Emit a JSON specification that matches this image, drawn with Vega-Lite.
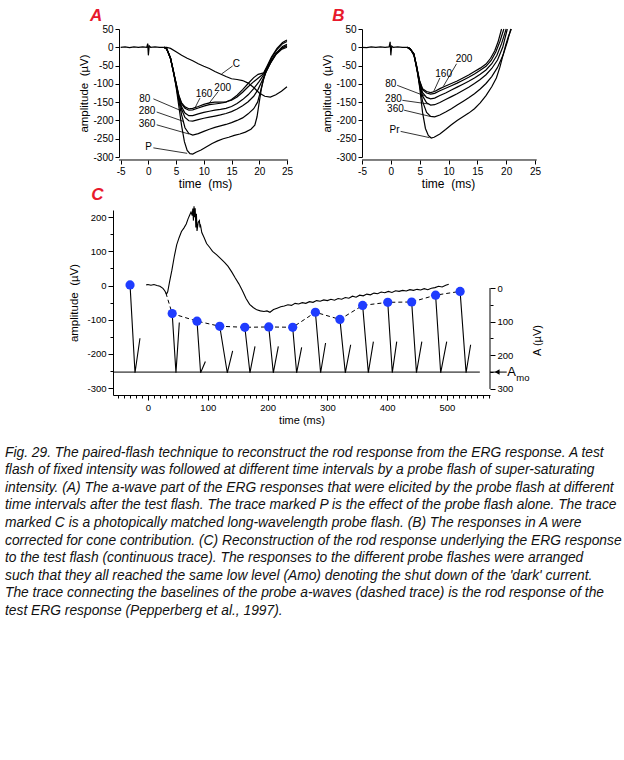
{
"$schema":"https://vega.github.io/schema/vega-lite/v6.json",
"background":"white",
"padding":{"left":5,"top":7,"right":0,"bottom":0},
"config":{
 "view":{"stroke":null},
 "font":"Liberation Sans",
 "axis":{"grid":false,"domainColor":"#000","tickColor":"#000","labelColor":"#000","titleColor":"#000","labelFont":"Liberation Sans","titleFont":"Liberation Sans","titleFontWeight":"normal","labelFlush":false,"labelOverlap":false,"domainWidth":1,"tickWidth":1}
},
"datasets":{
 "aC":[
  {"c":"base","t":-5,"v":0},{"c":"base","t":-4.2,"v":1},{"c":"base","t":-3.4,"v":-1},{"c":"base","t":-2.6,"v":1},{"c":"base","t":-1.8,"v":0},{"c":"base","t":-1,"v":1},{"c":"base","t":-0.3,"v":0},{"c":"base","t":-0.12,"v":10},{"c":"base","t":0,"v":-22},{"c":"base","t":0.15,"v":4},{"c":"base","t":0.4,"v":0},{"c":"base","t":1.2,"v":1},{"c":"base","t":2,"v":0},{"c":"base","t":2.8,"v":0},
  {"c":"P","t":2.8,"v":0},{"c":"P","t":3.2,"v":-4},{"c":"P","t":3.6,"v":-14},{"c":"P","t":4.0,"v":-32},{"c":"P","t":4.5,"v":-62},{"c":"P","t":5.0,"v":-108},{"c":"P","t":5.5,"v":-162},{"c":"P","t":6.0,"v":-215},{"c":"P","t":6.5,"v":-258},{"c":"P","t":7.0,"v":-282},{"c":"P","t":7.5,"v":-291},{"c":"P","t":8.0,"v":-292},{"c":"P","t":8.6,"v":-287},{"c":"P","t":9.5,"v":-281},{"c":"P","t":10.5,"v":-272},{"c":"P","t":11.5,"v":-263},{"c":"P","t":12.5,"v":-256},{"c":"P","t":13.5,"v":-250},{"c":"P","t":14.5,"v":-246},{"c":"P","t":15.5,"v":-241},{"c":"P","t":16.5,"v":-237},{"c":"P","t":17.5,"v":-232},{"c":"P","t":18.5,"v":-224},{"c":"P","t":19.2,"v":-213},{"c":"P","t":19.6,"v":-190},{"c":"P","t":20.0,"v":-150},{"c":"P","t":20.4,"v":-112},{"c":"P","t":20.8,"v":-85},{"c":"P","t":21.3,"v":-62},{"c":"P","t":22,"v":-40},{"c":"P","t":23,"v":-18},{"c":"P","t":24,"v":-4},{"c":"P","t":25,"v":4},
  {"c":"80","t":2.8,"v":0},{"c":"80","t":3.3,"v":-4},{"c":"80","t":4.0,"v":-30},{"c":"80","t":4.5,"v":-65},{"c":"80","t":5.0,"v":-100},{"c":"80","t":5.5,"v":-138},{"c":"80","t":6.0,"v":-163},{"c":"80","t":6.6,"v":-180},{"c":"80","t":7.3,"v":-187},{"c":"80","t":8.0,"v":-187},{"c":"80","t":9,"v":-182},{"c":"80","t":10,"v":-178},{"c":"80","t":11,"v":-175},{"c":"80","t":12,"v":-172},{"c":"80","t":13,"v":-170},{"c":"80","t":14,"v":-167},{"c":"80","t":15,"v":-162},{"c":"80","t":16,"v":-154},{"c":"80","t":17,"v":-143},{"c":"80","t":18,"v":-130},{"c":"80","t":19,"v":-113},{"c":"80","t":20,"v":-93},{"c":"80","t":20.8,"v":-75},{"c":"80","t":21.4,"v":-60},{"c":"80","t":22.2,"v":-38},{"c":"80","t":23.2,"v":-14},{"c":"80","t":24.2,"v":2},{"c":"80","t":25,"v":8},
  {"c":"160","t":2.8,"v":0},{"c":"160","t":3.3,"v":-4},{"c":"160","t":4.0,"v":-30},{"c":"160","t":4.5,"v":-65},{"c":"160","t":5.0,"v":-98},{"c":"160","t":5.5,"v":-132},{"c":"160","t":6.0,"v":-152},{"c":"160","t":6.6,"v":-163},{"c":"160","t":7.3,"v":-168},{"c":"160","t":8.0,"v":-167},{"c":"160","t":9,"v":-162},{"c":"160","t":10,"v":-156},{"c":"160","t":11,"v":-152},{"c":"160","t":12,"v":-150},{"c":"160","t":13,"v":-150},{"c":"160","t":14,"v":-149},{"c":"160","t":15,"v":-145},{"c":"160","t":16,"v":-136},{"c":"160","t":17,"v":-123},{"c":"160","t":18,"v":-108},{"c":"160","t":19,"v":-94},{"c":"160","t":20,"v":-82},{"c":"160","t":20.8,"v":-72},{"c":"160","t":21.4,"v":-55},{"c":"160","t":22.2,"v":-30},{"c":"160","t":23.2,"v":-6},{"c":"160","t":24.2,"v":10},{"c":"160","t":25,"v":16},
  {"c":"200","t":2.8,"v":0},{"c":"200","t":3.3,"v":-4},{"c":"200","t":4.0,"v":-30},{"c":"200","t":4.5,"v":-65},{"c":"200","t":5.0,"v":-98},{"c":"200","t":5.5,"v":-133},{"c":"200","t":6.0,"v":-155},{"c":"200","t":6.6,"v":-167},{"c":"200","t":7.3,"v":-172},{"c":"200","t":8.0,"v":-171},{"c":"200","t":9,"v":-166},{"c":"200","t":10,"v":-161},{"c":"200","t":11,"v":-157},{"c":"200","t":12,"v":-155},{"c":"200","t":13,"v":-153},{"c":"200","t":14,"v":-150},{"c":"200","t":15,"v":-143},{"c":"200","t":16,"v":-131},{"c":"200","t":17,"v":-116},{"c":"200","t":18,"v":-99},{"c":"200","t":19,"v":-83},{"c":"200","t":19.8,"v":-74},{"c":"200","t":20.8,"v":-70},{"c":"200","t":21.4,"v":-52},{"c":"200","t":22.2,"v":-27},{"c":"200","t":23.2,"v":-3},{"c":"200","t":24.2,"v":13},{"c":"200","t":25,"v":20},
  {"c":"280","t":2.8,"v":0},{"c":"280","t":3.3,"v":-4},{"c":"280","t":4.0,"v":-30},{"c":"280","t":4.5,"v":-66},{"c":"280","t":5.0,"v":-102},{"c":"280","t":5.5,"v":-142},{"c":"280","t":6.0,"v":-170},{"c":"280","t":6.6,"v":-192},{"c":"280","t":7.3,"v":-201},{"c":"280","t":8.0,"v":-202},{"c":"280","t":9,"v":-198},{"c":"280","t":10,"v":-194},{"c":"280","t":11,"v":-191},{"c":"280","t":12,"v":-188},{"c":"280","t":13,"v":-185},{"c":"280","t":14,"v":-181},{"c":"280","t":15,"v":-176},{"c":"280","t":16,"v":-169},{"c":"280","t":17,"v":-160},{"c":"280","t":18,"v":-149},{"c":"280","t":19,"v":-134},{"c":"280","t":19.8,"v":-115},{"c":"280","t":20.5,"v":-92},{"c":"280","t":21.2,"v":-68},{"c":"280","t":22,"v":-42},{"c":"280","t":23,"v":-17},{"c":"280","t":24,"v":-2},{"c":"280","t":25,"v":4},
  {"c":"360","t":2.8,"v":0},{"c":"360","t":3.3,"v":-4},{"c":"360","t":4.0,"v":-31},{"c":"360","t":4.5,"v":-67},{"c":"360","t":5.0,"v":-105},{"c":"360","t":5.5,"v":-148},{"c":"360","t":6.0,"v":-185},{"c":"360","t":6.6,"v":-220},{"c":"360","t":7.3,"v":-236},{"c":"360","t":8.0,"v":-240},{"c":"360","t":9,"v":-236},{"c":"360","t":10,"v":-230},{"c":"360","t":11,"v":-224},{"c":"360","t":12,"v":-219},{"c":"360","t":13,"v":-215},{"c":"360","t":14,"v":-211},{"c":"360","t":15,"v":-206},{"c":"360","t":16,"v":-200},{"c":"360","t":17,"v":-193},{"c":"360","t":18,"v":-182},{"c":"360","t":19,"v":-168},{"c":"360","t":19.7,"v":-150},{"c":"360","t":20.2,"v":-122},{"c":"360","t":20.7,"v":-92},{"c":"360","t":21.2,"v":-68},{"c":"360","t":22,"v":-44},{"c":"360","t":23,"v":-20},{"c":"360","t":24,"v":-6},{"c":"360","t":25,"v":0},
  {"c":"C","t":2.8,"v":0},{"c":"C","t":3.3,"v":0},{"c":"C","t":4,"v":-3},{"c":"C","t":5,"v":-12},{"c":"C","t":6,"v":-22},{"c":"C","t":7,"v":-30},{"c":"C","t":8,"v":-37},{"c":"C","t":9,"v":-45},{"c":"C","t":10,"v":-52},{"c":"C","t":11,"v":-58},{"c":"C","t":12,"v":-66},{"c":"C","t":13,"v":-73},{"c":"C","t":14,"v":-80},{"c":"C","t":15,"v":-86},{"c":"C","t":16,"v":-88},{"c":"C","t":17,"v":-91},{"c":"C","t":18,"v":-98},{"c":"C","t":19,"v":-110},{"c":"C","t":20,"v":-125},{"c":"C","t":21,"v":-134},{"c":"C","t":22,"v":-136},{"c":"C","t":23,"v":-130},{"c":"C","t":24,"v":-120},{"c":"C","t":25,"v":-108}
 ],
 "aL":[
  {"t":0.9,"v":-141,"t2":6.3,"v2":-176},{"t":1.5,"v":-177,"t2":6.4,"v2":-203},{"t":1.5,"v":-212,"t2":7.3,"v2":-237},{"t":0.9,"v":-275,"t2":7.0,"v2":-290},{"t":9.3,"v":-139,"t2":8.4,"v2":-166},{"t":12.6,"v":-121,"t2":10.8,"v2":-156},{"t":15.2,"v":-51,"t2":13.2,"v2":-73}
 ],
 "aT":[
  {"t":-0.65,"v":-141,"s":"80"},{"t":-0.25,"v":-174,"s":"280"},{"t":-0.25,"v":-211,"s":"360"},{"t":0.05,"v":-272,"s":"P"},{"t":10.05,"v":-129,"s":"160"},{"t":13.4,"v":-112,"s":"200"},{"t":15.85,"v":-46,"s":"C"}
 ],
 "aX":[{"t":-5.3,"t2":25.2,"v":-308.2}],
 "aLet":[{"t":-9.4,"v":85.5,"s":"A"}],
 "bC":[
  {"c":"base","t":-5,"v":0},{"c":"base","t":-4.2,"v":-1},{"c":"base","t":-3.4,"v":1},{"c":"base","t":-2.6,"v":0},{"c":"base","t":-1.8,"v":1},{"c":"base","t":-1,"v":0},{"c":"base","t":-0.3,"v":1},{"c":"base","t":-0.12,"v":15},{"c":"base","t":0,"v":-22},{"c":"base","t":0.15,"v":3},{"c":"base","t":0.4,"v":0},{"c":"base","t":1.2,"v":1},{"c":"base","t":2,"v":0},{"c":"base","t":2.8,"v":0},
  {"c":"Pr","t":2.8,"v":0},{"c":"Pr","t":3.0,"v":-2},{"c":"Pr","t":3.5,"v":-8},{"c":"Pr","t":4.0,"v":-22},{"c":"Pr","t":4.5,"v":-52},{"c":"Pr","t":5.0,"v":-110},{"c":"Pr","t":5.5,"v":-178},{"c":"Pr","t":6.0,"v":-222},{"c":"Pr","t":6.5,"v":-241},{"c":"Pr","t":7.0,"v":-248},{"c":"Pr","t":7.5,"v":-246},{"c":"Pr","t":8.5,"v":-237},{"c":"Pr","t":9.5,"v":-225},{"c":"Pr","t":10.5,"v":-212},{"c":"Pr","t":11.5,"v":-200},{"c":"Pr","t":12.5,"v":-190},{"c":"Pr","t":13.5,"v":-180},{"c":"Pr","t":14.5,"v":-168},{"c":"Pr","t":15.5,"v":-152},{"c":"Pr","t":16.5,"v":-132},{"c":"Pr","t":17.5,"v":-108},{"c":"Pr","t":18.3,"v":-84},{"c":"Pr","t":18.9,"v":-55},{"c":"Pr","t":19.4,"v":-25},{"c":"Pr","t":19.9,"v":5},{"c":"Pr","t":20.4,"v":30},{"c":"Pr","t":20.9,"v":50},
  {"c":"200","t":2.8,"v":0},{"c":"200","t":3.3,"v":-3},{"c":"200","t":4.0,"v":-18},{"c":"200","t":4.5,"v":-55},{"c":"200","t":5.0,"v":-92},{"c":"200","t":5.5,"v":-113},{"c":"200","t":6.2,"v":-121},{"c":"200","t":6.9,"v":-124},{"c":"200","t":7.6,"v":-121},{"c":"200","t":8.5,"v":-113},{"c":"200","t":9.5,"v":-106},{"c":"200","t":10.5,"v":-99},{"c":"200","t":11.5,"v":-92},{"c":"200","t":12.5,"v":-84},{"c":"200","t":13.5,"v":-76},{"c":"200","t":14.5,"v":-66},{"c":"200","t":15.5,"v":-57},{"c":"200","t":16.5,"v":-46},{"c":"200","t":17.3,"v":-30},{"c":"200","t":18,"v":-10},{"c":"200","t":18.6,"v":15},{"c":"200","t":19.2,"v":50},
  {"c":"160","t":2.8,"v":0},{"c":"160","t":3.3,"v":-3},{"c":"160","t":4.0,"v":-18},{"c":"160","t":4.5,"v":-55},{"c":"160","t":5.0,"v":-93},{"c":"160","t":5.5,"v":-116},{"c":"160","t":6.2,"v":-125},{"c":"160","t":6.9,"v":-128},{"c":"160","t":7.6,"v":-126},{"c":"160","t":8.5,"v":-119},{"c":"160","t":9.5,"v":-112},{"c":"160","t":10.5,"v":-105},{"c":"160","t":11.5,"v":-98},{"c":"160","t":12.5,"v":-90},{"c":"160","t":13.5,"v":-82},{"c":"160","t":14.5,"v":-73},{"c":"160","t":15.5,"v":-63},{"c":"160","t":16.5,"v":-52},{"c":"160","t":17.4,"v":-36},{"c":"160","t":18.2,"v":-13},{"c":"160","t":18.9,"v":15},{"c":"160","t":19.6,"v":50},
  {"c":"80","t":2.8,"v":0},{"c":"80","t":3.3,"v":-3},{"c":"80","t":4.0,"v":-19},{"c":"80","t":4.5,"v":-57},{"c":"80","t":5.0,"v":-97},{"c":"80","t":5.5,"v":-124},{"c":"80","t":6.2,"v":-137},{"c":"80","t":6.9,"v":-141},{"c":"80","t":7.6,"v":-139},{"c":"80","t":8.5,"v":-132},{"c":"80","t":9.5,"v":-125},{"c":"80","t":10.5,"v":-117},{"c":"80","t":11.5,"v":-109},{"c":"80","t":12.5,"v":-101},{"c":"80","t":13.5,"v":-93},{"c":"80","t":14.5,"v":-84},{"c":"80","t":15.5,"v":-74},{"c":"80","t":16.5,"v":-62},{"c":"80","t":17.5,"v":-45},{"c":"80","t":18.4,"v":-22},{"c":"80","t":19.2,"v":10},{"c":"80","t":20,"v":50},
  {"c":"280","t":2.8,"v":0},{"c":"280","t":3.3,"v":-3},{"c":"280","t":4.0,"v":-19},{"c":"280","t":4.5,"v":-58},{"c":"280","t":5.0,"v":-100},{"c":"280","t":5.5,"v":-133},{"c":"280","t":6.2,"v":-152},{"c":"280","t":6.9,"v":-158},{"c":"280","t":7.6,"v":-157},{"c":"280","t":8.5,"v":-151},{"c":"280","t":9.5,"v":-143},{"c":"280","t":10.5,"v":-135},{"c":"280","t":11.5,"v":-127},{"c":"280","t":12.5,"v":-118},{"c":"280","t":13.5,"v":-109},{"c":"280","t":14.5,"v":-99},{"c":"280","t":15.5,"v":-88},{"c":"280","t":16.5,"v":-75},{"c":"280","t":17.5,"v":-58},{"c":"280","t":18.5,"v":-35},{"c":"280","t":19.4,"v":0},{"c":"280","t":20.2,"v":50},
  {"c":"360","t":2.8,"v":0},{"c":"360","t":3.3,"v":-3},{"c":"360","t":4.0,"v":-20},{"c":"360","t":4.5,"v":-60},{"c":"360","t":5.0,"v":-105},{"c":"360","t":5.5,"v":-148},{"c":"360","t":6.2,"v":-178},{"c":"360","t":6.9,"v":-189},{"c":"360","t":7.6,"v":-190},{"c":"360","t":8.5,"v":-185},{"c":"360","t":9.5,"v":-177},{"c":"360","t":10.5,"v":-168},{"c":"360","t":11.5,"v":-158},{"c":"360","t":12.5,"v":-148},{"c":"360","t":13.5,"v":-138},{"c":"360","t":14.5,"v":-127},{"c":"360","t":15.5,"v":-114},{"c":"360","t":16.5,"v":-99},{"c":"360","t":17.5,"v":-80},{"c":"360","t":18.5,"v":-55},{"c":"360","t":19.5,"v":-20},{"c":"360","t":20.2,"v":15},{"c":"360","t":20.8,"v":50}
 ],
 "bL":[
  {"t":11.4,"v":-45,"t2":9.1,"v2":-107},{"t":8.5,"v":-84,"t2":7.4,"v2":-122},{"t":1.1,"v":-104,"t2":5.9,"v2":-133},{"t":2.0,"v":-145,"t2":6.5,"v2":-155},{"t":2.3,"v":-172,"t2":6.8,"v2":-189},{"t":1.7,"v":-230,"t2":6.7,"v2":-247}
 ],
 "bT":[
  {"t":12.7,"v":-32,"s":"200"},{"t":9.15,"v":-73,"s":"160"},{"t":0,"v":-100,"s":"80"},{"t":0.45,"v":-141,"s":"280"},{"t":0.8,"v":-168,"s":"360"},{"t":0.65,"v":-227,"s":"Pr"}
 ],
 "bX":[{"t":-5,"t2":25.3,"v":-308.2}],
 "bLet":[{"t":-9.1,"v":85.5,"s":"B"}],
 "cTr":[
  {"t":-3,"v":2},{"t":0,"v":3},{"t":5,"v":1},{"t":10,"v":3},{"t":15,"v":0},{"t":20,"v":-2},{"t":25,"v":-8},{"t":28,"v":-15},{"t":31,"v":-25},{"t":33,"v":-18},{"t":36,"v":10},{"t":40,"v":45},{"t":44,"v":85},{"t":48,"v":119},{"t":52,"v":140},{"t":56,"v":158},{"t":60,"v":168},{"t":64,"v":180},{"t":67,"v":195},{"t":70,"v":207},{"t":72,"v":215},{"t":74,"v":205},{"t":75,"v":225},{"t":76,"v":190},{"t":77,"v":232},{"t":78,"v":200},{"t":79,"v":226},{"t":80,"v":170},{"t":81,"v":210},{"t":82,"v":160},{"t":84,"v":185},{"t":86,"v":190},{"t":87,"v":170},{"t":88,"v":175},{"t":90,"v":155},{"t":94,"v":140},{"t":98,"v":123},{"t":103,"v":112},{"t":108,"v":100},{"t":115,"v":90},{"t":122,"v":78},{"t":128,"v":68},{"t":134,"v":56},{"t":140,"v":40},{"t":146,"v":22},{"t":152,"v":5},{"t":158,"v":-15},{"t":164,"v":-38},{"t":170,"v":-55},{"t":176,"v":-64},{"t":182,"v":-71},{"t":188,"v":-74},{"t":194,"v":-76},{"t":199,"v":-74},{"t":204,"v":-78},{"t":210,"v":-70},{"t":216,"v":-66},{"t":222,"v":-62},{"t":228,"v":-60},{"t":234,"v":-56},{"t":240,"v":-58},{"t":246,"v":-52},{"t":252,"v":-54},{"t":258,"v":-50},{"t":264,"v":-52},{"t":270,"v":-47},{"t":276,"v":-49},{"t":282,"v":-44},{"t":288,"v":-46},{"t":294,"v":-42},{"t":300,"v":-44},{"t":306,"v":-40},{"t":312,"v":-43},{"t":318,"v":-38},{"t":324,"v":-40},{"t":330,"v":-35},{"t":336,"v":-37},{"t":342,"v":-31},{"t":348,"v":-34},{"t":354,"v":-28},{"t":360,"v":-30},{"t":366,"v":-25},{"t":372,"v":-27},{"t":378,"v":-22},{"t":384,"v":-24},{"t":390,"v":-19},{"t":396,"v":-21},{"t":402,"v":-17},{"t":408,"v":-20},{"t":414,"v":-15},{"t":420,"v":-17},{"t":426,"v":-14},{"t":432,"v":-16},{"t":438,"v":-12},{"t":444,"v":-14},{"t":450,"v":-11},{"t":456,"v":-13},{"t":462,"v":-9},{"t":468,"v":-12},{"t":474,"v":-8},{"t":480,"v":-6},{"t":486,"v":-2},{"t":492,"v":-4},{"t":498,"v":1},{"t":503,"v":4}
 ],
 "cDa":[
  {"t":30,"v":-22},{"t":40.5,"v":-82},{"t":82,"v":-104},{"t":120,"v":-119},{"t":162,"v":-122},{"t":202,"v":-121},{"t":242,"v":-122},{"t":280,"v":-78},{"t":321,"v":-99},{"t":359,"v":-58},{"t":401,"v":-49},{"t":441,"v":-48},{"t":481,"v":-28},{"t":522,"v":-17}
 ],
 "cDo":[
  {"t":-30,"v":2},{"t":40.5,"v":-82},{"t":82,"v":-104},{"t":120,"v":-119},{"t":162,"v":-122},{"t":202,"v":-121},{"t":242,"v":-122},{"t":280,"v":-78},{"t":321,"v":-99},{"t":359,"v":-58},{"t":401,"v":-49},{"t":441,"v":-48},{"t":481,"v":-28},{"t":522,"v":-17}
 ],
 "cW":[
  {"w":1,"t":-30,"v":2},{"w":1,"t":-21.7,"v":-255},{"w":1,"t":-13.4,"v":-154},
  {"w":2,"t":40.5,"v":-82},{"w":2,"t":46.8,"v":-255},{"w":2,"t":52.4,"v":-108},
  {"w":3,"t":82,"v":-104},{"w":3,"t":88,"v":-255},{"w":3,"t":96,"v":-222},
  {"w":4,"t":120,"v":-119},{"w":4,"t":132.6,"v":-255},{"w":4,"t":141.6,"v":-191},
  {"w":5,"t":162,"v":-122},{"w":5,"t":170.5,"v":-255},{"w":5,"t":179,"v":-178},
  {"w":6,"t":202,"v":-121},{"w":6,"t":209.6,"v":-255},{"w":6,"t":218,"v":-178},
  {"w":7,"t":242,"v":-122},{"w":7,"t":248.6,"v":-255},{"w":7,"t":257,"v":-181},
  {"w":8,"t":280,"v":-78},{"w":8,"t":288.7,"v":-255},{"w":8,"t":297,"v":-168},
  {"w":9,"t":321,"v":-99},{"w":9,"t":330,"v":-255},{"w":9,"t":339,"v":-173},
  {"w":10,"t":359,"v":-58},{"w":10,"t":368.5,"v":-255},{"w":10,"t":377,"v":-164},
  {"w":11,"t":401,"v":-49},{"w":11,"t":408.6,"v":-255},{"w":11,"t":416,"v":-164},
  {"w":12,"t":441,"v":-48},{"w":12,"t":449,"v":-255},{"w":12,"t":458,"v":-164},
  {"w":13,"t":481,"v":-28},{"w":13,"t":489.5,"v":-255},{"w":13,"t":499.6,"v":-164},
  {"w":14,"t":522,"v":-17},{"w":14,"t":532,"v":-255},{"w":14,"t":539.6,"v":-173}
 ],
 "cR":[{"t":-58.5,"t2":555,"v":-253},{"t":572,"t2":600,"v":-253}],
 "cAr":[{"t":584,"v":-253}],
 "cA":[{"t":601,"v":-254,"s":"A"}],
 "cM":[{"t":616,"v":-271,"s":"mo"}],
 "cL":[{"t":-84.4,"v":266,"s":"C"}],
 "rAx":[{"t":572,"v":0,"v2":300}]
},
"vconcat":[
 {
  "width":422,"height":128,
  "layer":[
   {
    "encoding":{
     "x":{"field":"t","type":"quantitative","scale":{"domain":[-6.38,69.74],"nice":false,"zero":false},
      "axis":{"orient":"bottom","domain":false,"values":[-5,0,5,10,15,20,25],"labelExpr":"toString(datum.value)","title":"time\u00a0 (ms)","titleX":92,"offset":3,"tickSize":4,"labelFontSize":10,"labelPadding":2,"titleFontSize":12,"titlePadding":2}},
     "y":{"field":"v","type":"quantitative","scale":{"domain":[-300,50],"nice":false,"zero":false},
      "axis":{"orient":"left","values":[-300,-250,-200,-150,-100,-50,0,50],"labelExpr":"toString(datum.value)","title":"amplitude\u00a0 (µV)","offset":-6,"tickSize":4,"labelFontSize":10,"labelPadding":2,"titleFontSize":11.5,"titlePadding":3}}
    },
    "layer":[
     {"data":{"name":"aC"},"mark":{"type":"line","color":"#000","strokeWidth":1.2},"encoding":{"detail":{"field":"c"}}},
     {"data":{"name":"aL"},"mark":{"type":"rule","color":"#000","strokeWidth":0.8},"encoding":{"x2":{"field":"t2"},"y2":{"field":"v2"}}},
     {"data":{"name":"aX"},"mark":{"type":"rule","color":"#000","strokeWidth":1},"encoding":{"x2":{"field":"t2"}}},
     {"data":{"name":"aT"},"mark":{"type":"text","fontSize":10,"color":"#000"},"encoding":{"text":{"field":"s"}}},
     {"data":{"name":"aLet"},"mark":{"type":"text","fontSize":17,"fontStyle":"italic","fontWeight":"bold","color":"#e8192c","align":"center","baseline":"middle"},"encoding":{"text":{"field":"s"}}}
    ]
   },
   {
    "encoding":{
     "x":{"field":"t","type":"quantitative","scale":{"domain":[-48.18,25],"nice":false,"zero":false},
      "axis":{"orient":"bottom","domain":false,"values":[-5,0,5,10,15,20,25],"labelExpr":"toString(datum.value)","title":"time\u00a0 (ms)","titleX":335,"offset":3,"tickSize":4,"labelFontSize":10,"labelPadding":2,"titleFontSize":12,"titlePadding":2}},
     "y":{"field":"v","type":"quantitative","scale":{"domain":[-300,50],"nice":false,"zero":false},
      "axis":{"orient":"left","values":[-300,-250,-200,-150,-100,-50,0,50],"labelExpr":"toString(datum.value)","title":"amplitude\u00a0 (µV)","offset":-249,"tickSize":4,"labelFontSize":10,"labelPadding":2,"titleFontSize":11.5,"titlePadding":3}}
    },
    "layer":[
     {"data":{"name":"bC"},"mark":{"type":"line","color":"#000","strokeWidth":1.2},"encoding":{"detail":{"field":"c"}}},
     {"data":{"name":"bL"},"mark":{"type":"rule","color":"#000","strokeWidth":0.8},"encoding":{"x2":{"field":"t2"},"y2":{"field":"v2"}}},
     {"data":{"name":"bX"},"mark":{"type":"rule","color":"#000","strokeWidth":1},"encoding":{"x2":{"field":"t2"}}},
     {"data":{"name":"bT"},"mark":{"type":"text","fontSize":10,"color":"#000"},"encoding":{"text":{"field":"s"}}},
     {"data":{"name":"bLet"},"mark":{"type":"text","fontSize":17,"fontStyle":"italic","fontWeight":"bold","color":"#e8192c","align":"center","baseline":"middle"},"encoding":{"text":{"field":"s"}}}
    ]
   }
  ],
  "resolve":{"scale":{"x":"independent","y":"independent"},"axis":{"x":"independent","y":"independent"}}
 },
 {
  "width":377,"height":185,
  "title":{"text":[
   "Fig. 29. The paired-flash technique to reconstruct the rod response from the ERG response. A test",
   "flash of fixed intensity was followed at different time intervals by a probe flash of super-saturating",
   "intensity. (A) The a-wave part of the ERG responses that were elicited by the probe flash at different",
   "time intervals after the test flash. The trace marked P is the effect of the probe flash alone. The trace",
   "marked C is a photopically matched long-wavelength probe flash. (B) The responses in A were",
   "corrected for cone contribution. (C) Reconstruction of the rod response underlying the ERG response",
   "to the test flash (continuous trace). The responses to the different probe flashes were arranged",
   "such that they all reached the same low level (Amo) denoting the shut down of the 'dark' current.",
   "The trace connecting the baselines of the probe a-waves (dashed trace) is the rod response of the",
   "test ERG response (Pepperberg et al., 1997)."],
   "orient":"bottom","anchor":"start","frame":"group","dx":-108,"offset":20,"fontSize":13.8,"fontStyle":"italic","fontWeight":"normal","font":"Liberation Sans","lineHeight":17.6,"color":"#111","align":"left"},
  "encoding":{
   "x":{"field":"t","type":"quantitative","scale":{"domain":[-58.5,572],"nice":false,"zero":false},
    "axis":{"values":[-50,-40,-30,-20,-10,0,10,20,30,40,50,60,70,80,90,100,110,120,130,140,150,160,170,180,190,200,210,220,230,240,250,260,270,280,290,300,310,320,330,340,350,360,370,380,390,400,410,420,430,440,450,460,470,480,490,500,510,520,530,540,550,560,570],
     "labelExpr":"datum.value % 100 === 0 && datum.value >= 0 ? toString(datum.value) : ''",
     "title":"time (ms)","tickSize":{"condition":{"test":"datum.value % 100 === 0","value":5},"value":3},"labelFontSize":9.5,"labelPadding":2,"titleFontSize":11,"titlePadding":3}}
  },
  "layer":[
   {
    "encoding":{"y":{"field":"v","type":"quantitative","scale":{"domain":[-320,221],"nice":false,"zero":false},
     "axis":{"orient":"left","values":[-300,-250,-200,-150,-100,-50,0,50,100,150,200],"labelExpr":"datum.value % 100 === 0 ? toString(datum.value) : ''","title":"amplitude\u00a0 (µV)","tickSize":{"condition":{"test":"datum.value % 100 === 0","value":5},"value":3},"labelFontSize":9.5,"labelPadding":2,"titleFontSize":11.5,"titlePadding":7}}},
    "layer":[
     {"data":{"name":"cW"},"mark":{"type":"line","color":"#000","strokeWidth":1.1},"encoding":{"detail":{"field":"w"}}},
     {"data":{"name":"cTr"},"mark":{"type":"line","color":"#000","strokeWidth":1.1},"encoding":{}},
     {"data":{"name":"cDa"},"mark":{"type":"line","color":"#000","strokeWidth":1,"strokeDash":[4,3]},"encoding":{}},
     {"data":{"name":"cR"},"mark":{"type":"rule","color":"#000","strokeWidth":1},"encoding":{"x2":{"field":"t2"}}},
     {"data":{"name":"cAr"},"mark":{"type":"point","shape":"triangle-left","filled":true,"color":"#000","opacity":1,"size":30},"encoding":{}},
     {"data":{"name":"cDo"},"mark":{"type":"circle","color":"#1f3cff","opacity":1,"size":85},"encoding":{}},
     {"data":{"name":"cA"},"mark":{"type":"text","fontSize":13,"align":"left","baseline":"middle","color":"#000"},"encoding":{"text":{"field":"s"}}},
     {"data":{"name":"cM"},"mark":{"type":"text","fontSize":9.5,"align":"left","baseline":"middle","color":"#000"},"encoding":{"text":{"field":"s"}}},
     {"data":{"name":"cL"},"mark":{"type":"text","fontSize":17,"fontStyle":"italic","fontWeight":"bold","color":"#e8192c","align":"center","baseline":"middle"},"encoding":{"text":{"field":"s"}}}
    ]
   },
   {"data":{"name":"rAx"},"mark":{"type":"rule","color":"#000","strokeWidth":1},
    "encoding":{"y":{"field":"v","type":"quantitative","scale":{"domain":[-232,318],"reverse":true,"nice":false,"zero":false},
     "axis":{"orient":"right","domain":false,"values":[0,50,100,150,200,250,300],"labelExpr":"datum.value % 100 === 0 ? toString(datum.value) : ''","tickSize":{"condition":{"test":"datum.value % 100 === 0","value":5},"value":3},"labelFontSize":9.5,"labelPadding":2,"title":"A (µV)","titleFontSize":11,"titleAngle":270,"titleX":47,"titleY":130,"titleAlign":"center","titleBaseline":"middle"}},
     "y2":{"field":"v2"}}}
  ],
  "resolve":{"scale":{"y":"independent"}}
 }
],
"spacing":53,
"bounds":"flush"
}
